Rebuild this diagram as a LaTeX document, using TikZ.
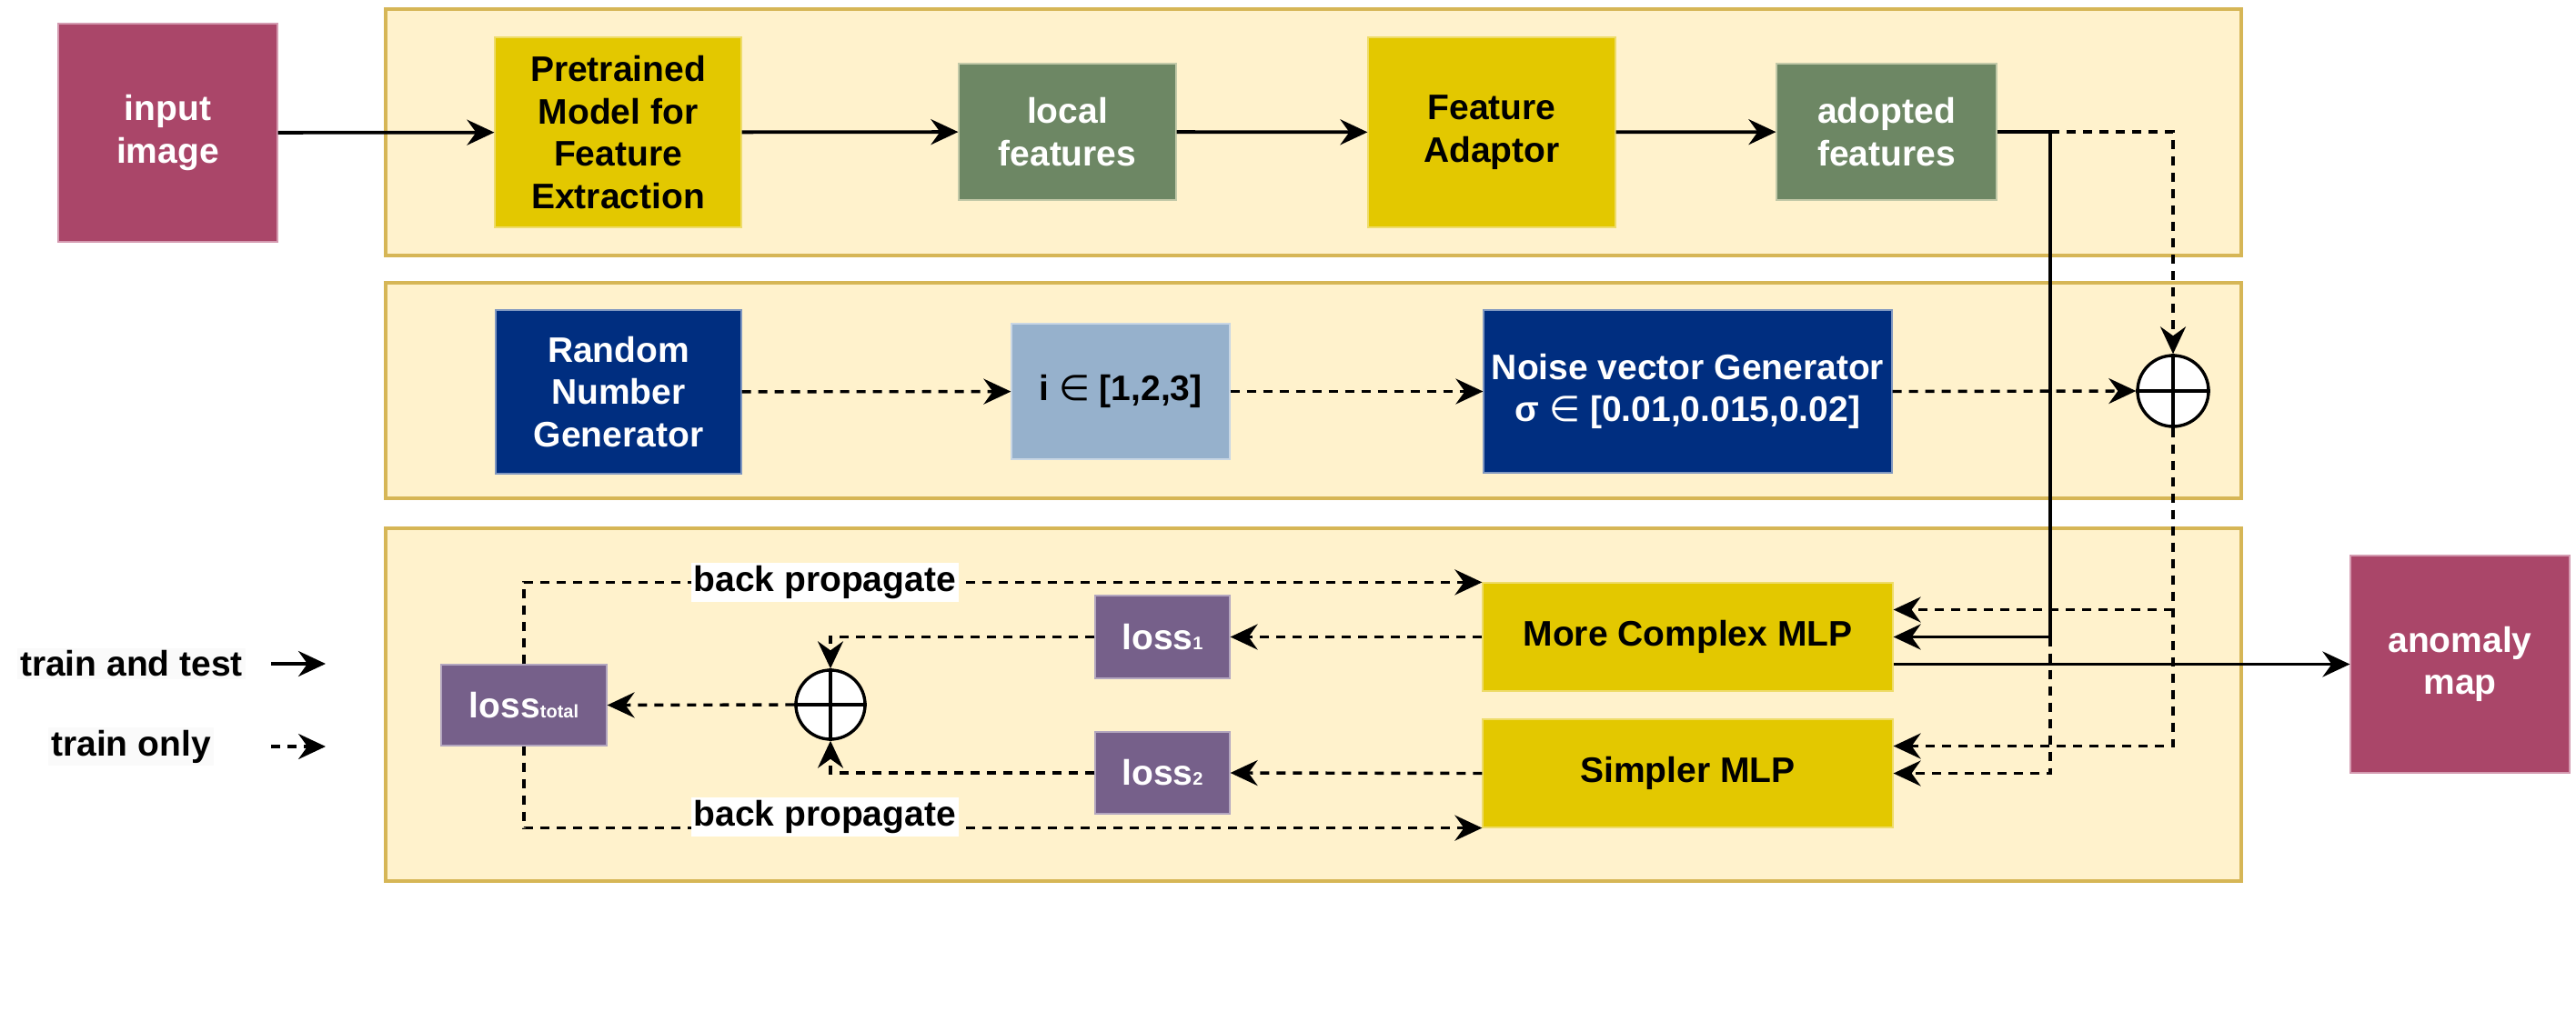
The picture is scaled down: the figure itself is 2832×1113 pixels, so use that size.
\documentclass[tikz,border=0pt]{standalone}
\usepackage{fontspec}
\setmainfont{Liberation Sans}
\newfontfamily\dvfont{DejaVu Sans}
\usetikzlibrary{arrows.meta}
\definecolor{mauve}{HTML}{AA4669}
\definecolor{mauveb}{HTML}{D49AB0}
\definecolor{yel}{HTML}{E3C800}
\definecolor{yelb}{HTML}{EEDC6A}
\definecolor{olive}{HTML}{6D8764}
\definecolor{oliveb}{HTML}{C2C9A8}
\definecolor{navy}{HTML}{002E80}
\definecolor{navyb}{HTML}{7F97C0}
\definecolor{lblue}{HTML}{96B1CC}
\definecolor{lblueb}{HTML}{C8D6E4}
\definecolor{violet}{HTML}{76608A}
\definecolor{violetb}{HTML}{B3A6BF}
\definecolor{panelfill}{HTML}{FFF2CC}
\definecolor{panelborder}{HTML}{D6B656}
\newcommand{\elem}{{\dvfont\mdseries ∈}}
\newcommand{\subsm}[1]{{\fontsize{10}{10}\selectfont #1}}
\begin{document}
\begin{tikzpicture}[x=0.5pt,y=-0.5pt,
  font=\fontsize{19.5}{23.4}\selectfont\bfseries,
  >={Stealth[length=15pt,width=14pt,inset=5pt]},
  box/.style={rectangle, inner sep=2pt, align=center, line width=0.6pt},
  panel/.style={draw=panelborder, fill=panelfill, line width=1.6pt},
  sline/.style={line width=1.9pt, draw=black},
  dline/.style={line width=1.7pt, draw=black, dash pattern=on 5pt off 4pt},
  opl/.style={circle, draw=black, fill=white, line width=1.7pt, inner sep=0pt},
  bplabel/.style={fill=white, inner sep=1.5pt, text=black},
  legendtxt/.style={fill=white!98!black, inner sep=1.5pt, text=black}
]
\useasboundingbox (0,0) rectangle (2832,1113);

% panels
\draw[panel] (424,10) rectangle (2464,281);
\draw[panel] (424,311) rectangle (2464,548);
\draw[panel] (424,581) rectangle (2464,969);

% nodes
\node[box, fill=mauve, draw=mauveb, text=white, minimum width=120.5pt, minimum height=120pt] (inimg) at (184.5,146) {input\\image};
\node[box, fill=yel, draw=yelb, text=black, minimum width=135.5pt, minimum height=104.5pt] (pre) at (679.5,145.5) {Pretrained\\Model for\\Feature\\Extraction};
\node[box, fill=olive, draw=oliveb, text=white, minimum width=119.5pt, minimum height=75pt] (local) at (1173.5,145) {local\\features};
\node[box, fill=yel, draw=yelb, text=black, minimum width=136pt, minimum height=104.5pt] (adaptor) at (1640,145.5) {Feature\\Adaptor};
\node[box, fill=olive, draw=oliveb, text=white, minimum width=121pt, minimum height=75pt] (adopted) at (2074,145) {adopted\\features};

\node[box, fill=navy, draw=navyb, text=white, minimum width=135pt, minimum height=90pt] (rng) at (680,431) {Random\\Number\\Generator};
\node[box, fill=lblue, draw=lblueb, text=black, minimum width=120pt, minimum height=74.5pt] (ibox) at (1232,430.5) {i \elem{} [1,2,3]};
\node[box, fill=navy, draw=navyb, text=white, minimum width=224.5pt, minimum height=89.5pt] (noise) at (1855.5,430.5) {Noise vector Generator\\σ \elem{} [0.01,0.015,0.02]};
\node[opl, minimum size=39pt] (oplA) at (2389,430) {};
\draw[line width=1.7pt] (oplA.north) -- (oplA.south) (oplA.west) -- (oplA.east);

\node[box, fill=yel, draw=yelb, text=black, minimum width=225.5pt, minimum height=59.5pt] (complex) at (1855.5,700.5) {More Complex MLP};
\node[box, fill=yel, draw=yelb, text=black, minimum width=225.5pt, minimum height=59.5pt] (simpler) at (1855.5,850.5) {Simpler MLP};
\node[box, fill=violet, draw=violetb, text=white, minimum width=74pt, minimum height=45.5pt] (loss1) at (1278,700.5) {loss\subsm{1}};
\node[box, fill=violet, draw=violetb, text=white, minimum width=74pt, minimum height=45pt] (loss2) at (1278,850) {loss\subsm{2}};
\node[box, fill=violet, draw=violetb, text=white, minimum width=91pt, minimum height=44.5pt] (losstot) at (576,775.5) {loss\subsm{total}};
\node[opl, minimum size=38pt] (oplB) at (913,775) {};
\draw[line width=1.7pt] (oplB.north) -- (oplB.south) (oplB.west) -- (oplB.east);

\node[box, fill=mauve, draw=mauveb, text=white, minimum width=120.5pt, minimum height=119.5pt] (anomaly) at (2704.5,730.5) {anomaly\\map};

% legend
\node[legendtxt] (lgA) at (144.5,730) {train and test};
\node[legendtxt] (lgB) at (144,821) {train only};
\coordinate (lgAs) at (298,730);
\coordinate (lgAe) at (358,730);
\coordinate (lgBs) at (298,821);
\coordinate (lgBe) at (358,821);
\draw[sline,->] (lgAs) -- (lgAe);
\draw[dline,->] (lgBs) -- (lgBe);

% top row connectors
\draw[sline,->] (inimg) -- (pre);
\draw[sline,->] (pre) -- (local);
\draw[sline,->] (local) -- (adaptor);
\draw[sline,->] (adaptor) -- (adopted);

% coordinates
\coordinate (split) at (2254,145);
\coordinate (cxA) at ([yshift=15pt]complex.east);
\coordinate (cxOut) at ([yshift=-15pt]complex.east);
\coordinate (sxA) at ([yshift=15pt]simpler.east);

\draw[sline,->] (adopted.east) -- (split) |- (complex.east);
\draw[dline,->] (split) -| (oplA.north);
\draw[dline,->] (noise.east) -- (oplA.west);
\draw[dline,->] (rng) -- (ibox);
\draw[dline,->] (ibox) -- (noise);

\draw[dline,->] (oplA.south) |- (sxA);
\draw[dline,->] (oplA |- cxA) -- (cxA);
\draw[dline,->] (split |- complex.east) |- (simpler.east);

\draw[sline,->] (cxOut) -- (anomaly.west);

% lower left
\draw[dline,->] (complex.west) -- (loss1.east);
\draw[dline,->] (simpler.west) -- (loss2.east);
\draw[dline,->] (loss1.west) -| (oplB.north);
\draw[dline,->] (loss2.west) -| (oplB.south);
\draw[dline,->] (oplB.west) -- (losstot.east);
\draw[dline,->] (losstot.north) |- (complex.north west) node[bplabel, pos=0.657] {back propagate};
\draw[dline,->] (losstot.south) |- (simpler.south west) node[bplabel, pos=0.657, yshift=6pt] {back propagate};
\end{tikzpicture}
\end{document}
